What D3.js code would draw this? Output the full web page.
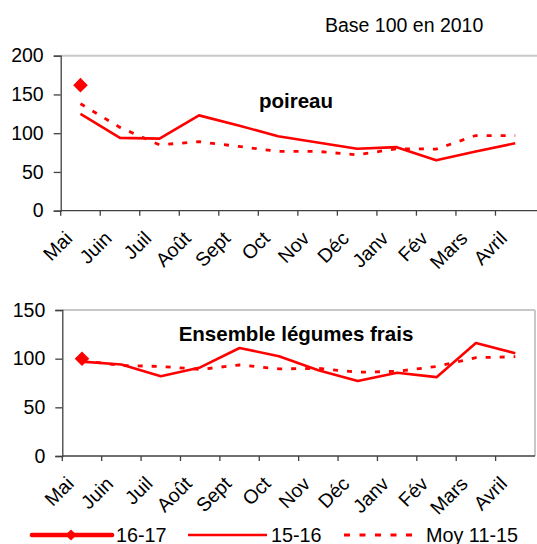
<!DOCTYPE html>
<html><head><meta charset="utf-8">
<script src="https://cdn.jsdelivr.net/npm/d3@7"></script>
<style>
html,body{margin:0;padding:0;background:#fff;}
svg{display:block;font-family:"Liberation Sans",Arial,sans-serif;}
</style></head>
<body>
<svg id="c" width="537" height="544"></svg>
<script>
const months = ["Mai","Juin","Juil","Août","Sept","Oct","Nov","Déc","Janv","Fév","Mars","Avril"];
const poireau1617 = [162];
const poireau1516 = [125, 94, 93, 123, 110, 96, 88, 80, 82, 65, 76.5, 87];
const poireauMoy  = [138, 107.5, 85, 89, 83, 76.5, 76.5, 72, 80, 79.5, 97, 97];
const ens1617 = [100];
const ens1516 = [97, 94, 82, 91, 111, 102.5, 88, 77, 85.5, 81, 116, 105.5];
const ensMoy  = [98, 93, 92, 89, 93.5, 89.5, 90, 86, 87, 92, 101, 102];
const topTicks = [0, 50, 100, 150, 200];
const botTicks = [0, 50, 100, 150];
const legendLabels = ["16-17", "15-16", "Moy 11-15"];

const svg = d3.select("#c");
const RED = "#ff0000";

svg.append("text").attr("x", 325).attr("y", 32).attr("font-size", 19.5).attr("fill", "#000")
  .text("Base 100 en 2010");

function panel(cfg) {
  const x = d3.scaleBand().domain(months).range([cfg.left, 535]);
  const y = d3.scaleLinear().domain([0, cfg.max]).range([cfg.bottom, cfg.top]);
  const g = svg.append("g");
  g.append("line").attr("x1", cfg.left).attr("x2", cfg.borderRight).attr("y1", y(cfg.max)).attr("y2", y(cfg.max))
    .attr("stroke", "#c8c8c8").attr("stroke-width", 2);
  if (cfg.rightBorder) {
    g.append("line").attr("x1", 535).attr("x2", 535).attr("y1", y(cfg.max)).attr("y2", y(0))
      .attr("stroke", "#c8c8c8").attr("stroke-width", 2);
  }
  const ya = g.append("g").attr("transform", `translate(${cfg.left},0)`)
    .call(d3.axisLeft(y).tickValues(cfg.ticks).tickSize(7).tickPadding(10).tickFormat(d3.format("d")));
  ya.select(".domain").attr("stroke", "#404040").attr("stroke-width", 1.3);
  ya.selectAll(".tick line").attr("stroke", "#404040").attr("stroke-width", 1.3);
  ya.selectAll("text").attr("font-size", 19.5).attr("fill", "#000").attr("font-family", "Liberation Sans, Arial, sans-serif");
  ya.attr("font-family", null);
  const xa = g.append("g").attr("transform", `translate(0,${cfg.bottom})`);
  xa.append("line").attr("x1", cfg.left).attr("x2", cfg.axisRight).attr("y1", 0).attr("y2", 0)
    .attr("stroke", "#404040").attr("stroke-width", 1.3);
  const bounds = months.map(m => x(m));
  xa.selectAll("line.tk").data(bounds).join("line").attr("class", "tk")
    .attr("x1", d => d).attr("x2", d => d).attr("y1", 0).attr("y2", 5)
    .attr("stroke", "#404040").attr("stroke-width", 1.3);
  xa.selectAll("text").data(months).join("text")
    .attr("transform", d => `translate(${x(d) + x.bandwidth() / 2 - 7},${cfg.labelDy}) rotate(-45)`)
    .attr("text-anchor", "end").attr("font-size", 19.5).attr("fill", "#000")
    .text(d => d);
  g.append("text").attr("x", 296).attr("y", cfg.titleY).attr("text-anchor", "middle")
    .attr("font-size", 20.5).attr("font-weight", "bold").attr("fill", "#000").text(cfg.title);
  const cx = (d, i) => x(months[i]) + x.bandwidth() / 2;
  const line = d3.line().x(cx).y(d => y(d));
  g.append("path").datum(cfg.moy).attr("d", line).attr("fill", "none")
    .attr("stroke", RED).attr("stroke-width", 2.8).attr("stroke-dasharray", "5,9");
  g.append("path").datum(cfg.prev).attr("d", line).attr("fill", "none")
    .attr("stroke", RED).attr("stroke-width", 2.6).attr("stroke-linejoin", "round");
  g.append("path").datum(cfg.cur).attr("d", line).attr("fill", "none")
    .attr("stroke", RED).attr("stroke-width", 4.5);
  g.selectAll("path.pt").data(cfg.cur).join("path").attr("class", "pt")
    .attr("d", d3.symbol().type(d3.symbolDiamond2).size(135))
    .attr("transform", (d, i) => `translate(${cx(d, i)},${y(d)})`)
    .attr("fill", RED);
}

panel({left: 60.7, top: 55.7, bottom: 210.7, max: 200, ticks: topTicks, borderRight: 537, axisRight: 537,
  rightBorder: false, labelDy: 29, title: "poireau", titleY: 107.5,
  cur: poireau1617, prev: poireau1516, moy: poireauMoy});
panel({left: 62.3, top: 310, bottom: 456, max: 150, ticks: botTicks, borderRight: 535, axisRight: 535,
  rightBorder: true, labelDy: 29, title: "Ensemble légumes frais", titleY: 340.5,
  cur: ens1617, prev: ens1516, moy: ensMoy});

const lg = svg.append("g");
const ly = 535;
const items = [
  {x1: 32, x2: 112, tx: 116, w: 4.7, dash: null, marker: true},
  {x1: 188, x2: 267, tx: 271, w: 2.6, dash: null, marker: false},
  {x1: 344, x2: 420, tx: 426, w: 3, dash: "6,9.5", marker: false}
];
items.forEach((it, i) => {
  lg.append("line").attr("x1", it.x1).attr("x2", it.x2).attr("y1", ly).attr("y2", ly)
    .attr("stroke", RED).attr("stroke-width", it.w).attr("stroke-dasharray", it.dash)
    .attr("stroke-linecap", it.marker ? "round" : "butt");
  if (it.marker) {
    lg.append("path").attr("d", d3.symbol().type(d3.symbolDiamond2).size(80))
      .attr("transform", `translate(${(it.x1 + it.x2) / 2 - 1},${ly})`).attr("fill", RED);
  }
  lg.append("text").attr("x", it.tx).attr("y", ly + 7).attr("font-size", 19.8).attr("fill", "#000")
    .text(legendLabels[i]);
});
</script>
</body></html>
